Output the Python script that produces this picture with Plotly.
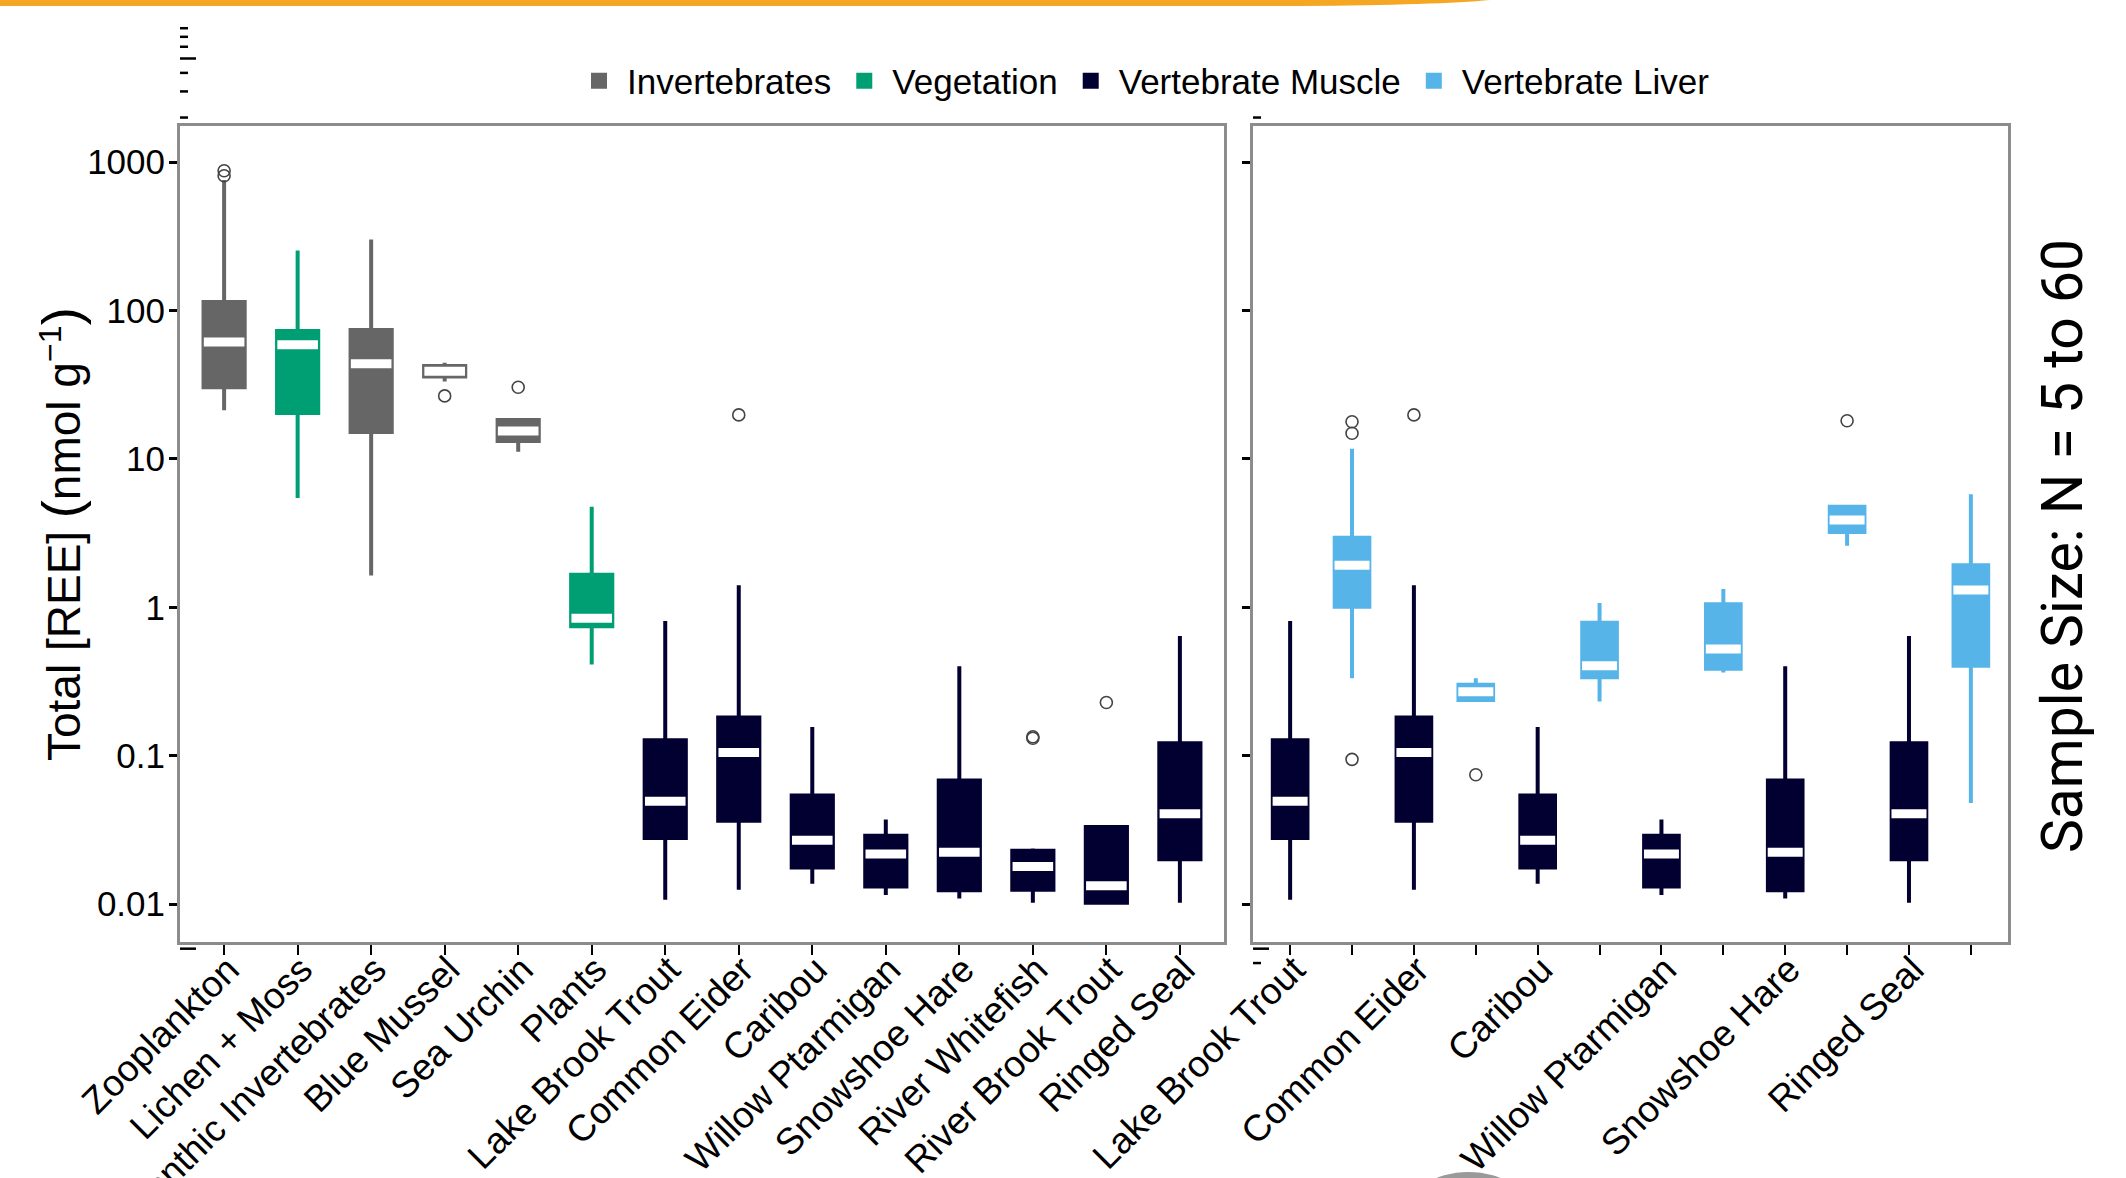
import math
import plotly.graph_objects as go

W, H = 2126, 1178

# ---- data: total REE concentrations (nmol g^-1), box statistics per category ----
left_categories = ["Zooplankton", "Lichen + Moss", "Benthic Invertebrates", "Blue Mussel",
                   "Sea Urchin", "Plants", "Lake Brook Trout", "Common Eider", "Caribou",
                   "Willow Ptarmigan", "Snowshoe Hare", "River Whitefish",
                   "River Brook Trout", "Ringed Seal"]
left_groups = ["Invertebrates", "Vegetation", "Invertebrates", "Invertebrates",
               "Invertebrates", "Vegetation", "Vertebrate Muscle", "Vertebrate Muscle",
               "Vertebrate Muscle", "Vertebrate Muscle", "Vertebrate Muscle",
               "Vertebrate Muscle", "Vertebrate Muscle", "Vertebrate Muscle"]
left_lower = [21.3, 5.45, 1.64, 33.3, 11.2, 0.411, 0.0107, 0.0125, 0.0137, 0.0115,
              0.0109, 0.0102, 0.0102, 0.0102]
left_q1 = [30.4, 20.4, 15.2, 36.0, 13.2, 0.746, 0.0279, 0.0364, 0.0176, 0.0131,
           0.0124, 0.0125, 0.0102, 0.0200]
left_median = [61.5, 58.8, 43.8, 39.0, 15.4, 0.845, 0.0493, 0.105, 0.0269, 0.0217,
               0.0223, 0.0179, 0.0133, 0.0406]
left_q3 = [114, 72.8, 74.1, 42.3, 18.3, 1.66, 0.127, 0.181, 0.0538, 0.0289,
           0.0679, 0.0229, 0.0330, 0.121]
left_upper = [760, 254, 301, 44.5, 18.5, 4.76, 0.809, 1.41, 0.156, 0.0371,
              0.400, 0.0237, 0.0330, 0.641]
left_outlier_cat = ["Zooplankton", "Zooplankton", "Blue Mussel", "Sea Urchin",
                    "Common Eider", "River Whitefish", "River Whitefish", "River Brook Trout"]
left_outlier_val = [875, 810, 26.6, 30.4, 19.8, 0.134, 0.131, 0.228]

# species compared muscle vs liver
right_species = ["Lake Brook Trout", "Common Eider", "Caribou", "Willow Ptarmigan",
                 "Snowshoe Hare", "Ringed Seal"]
liver_lower = [0.332, 0.237, 0.232, 0.363, 2.60, 0.048]
liver_q1 = [1.01, 0.237, 0.338, 0.386, 3.22, 0.404]
liver_median = [1.92, 0.270, 0.404, 0.523, 3.88, 1.31]
liver_q3 = [2.94, 0.301, 0.787, 1.05, 4.76, 1.92]
liver_upper = [11.7, 0.332, 1.07, 1.33, 4.76, 5.79]
liver_outlier_sp = ["Lake Brook Trout", "Lake Brook Trout", "Lake Brook Trout",
                    "Common Eider", "Snowshoe Hare"]
liver_outlier_val = [17.8, 14.9, 0.0944, 0.0743, 18.1]

group_order = ["Invertebrates", "Vegetation", "Vertebrate Muscle", "Vertebrate Liver"]
group_colors = {"Invertebrates": "#666666", "Vegetation": "#009E73",
                "Vertebrate Muscle": "#020030", "Vertebrate Liver": "#56B4E9"}

FONT = "Liberation Sans, Arial, Helvetica, sans-serif"
FRAME = "#8c8c8c"
OUTLIER = "#444444"
BOX_W = 0.56
XL_RANGE = [-0.6, 13.6]
XR_RANGE = [-0.6, 11.6]
Y_RANGE = [-2.256, 3.244]

fig = go.Figure()


def add_box(pos, low, q1, med, q3, up, group, xa, ya, legend):
    c = group_colors[group]
    fig.add_trace(go.Box(
        x=pos, lowerfence=low, q1=q1, median=med, q3=q3, upperfence=up,
        name=group, legendgroup=group, showlegend=legend,
        legendrank=group_order.index(group) + 1,
        width=BOX_W, fillcolor=c, line=dict(color=c, width=4),
        whiskerwidth=0, boxpoints=False, xaxis=xa, yaxis=ya,
    ))


# ---- left panel: all sample types ----
for g in group_order[:3]:
    idx = [i for i, gg in enumerate(left_groups) if gg == g]
    add_box(idx, [left_lower[i] for i in idx], [left_q1[i] for i in idx],
            [left_median[i] for i in idx], [left_q3[i] for i in idx],
            [left_upper[i] for i in idx], g, "x", "y", True)

fig.add_trace(go.Scatter(
    x=list(range(len(left_categories))), y=left_median, mode="markers",
    marker=dict(symbol="line-ew", size=29, color="white",
                line=dict(color="white", width=9)),
    showlegend=False, hoverinfo="skip", xaxis="x", yaxis="y"))
fig.add_trace(go.Scatter(
    x=[left_categories.index(c) for c in left_outlier_cat], y=left_outlier_val,
    mode="markers",
    marker=dict(symbol="circle-open", size=12, color=OUTLIER,
                line=dict(color=OUTLIER, width=1.6)),
    showlegend=False, xaxis="x", yaxis="y"))

# ---- right panel: muscle vs liver for the same species ----
mus_idx = [left_categories.index(s) for s in right_species]
mus_pos = [2 * k for k in range(len(right_species))]
liv_pos = [2 * k + 1 for k in range(len(right_species))]

add_box(mus_pos, [left_lower[i] for i in mus_idx], [left_q1[i] for i in mus_idx],
        [left_median[i] for i in mus_idx], [left_q3[i] for i in mus_idx],
        [left_upper[i] for i in mus_idx], "Vertebrate Muscle", "x2", "y2", False)
add_box(liv_pos, liver_lower, liver_q1, liver_median, liver_q3, liver_upper,
        "Vertebrate Liver", "x2", "y2", True)

fig.add_trace(go.Scatter(
    x=mus_pos + liv_pos, y=[left_median[i] for i in mus_idx] + liver_median,
    mode="markers",
    marker=dict(symbol="line-ew", size=25, color="white",
                line=dict(color="white", width=9)),
    showlegend=False, hoverinfo="skip", xaxis="x2", yaxis="y2"))

mus_out_x = [mus_pos[right_species.index(c)] for c in left_outlier_cat if c in right_species]
mus_out_y = [v for c, v in zip(left_outlier_cat, left_outlier_val) if c in right_species]
fig.add_trace(go.Scatter(
    x=mus_out_x + [liv_pos[right_species.index(s)] for s in liver_outlier_sp],
    y=mus_out_y + liver_outlier_val, mode="markers",
    marker=dict(symbol="circle-open", size=12, color=OUTLIER,
                line=dict(color=OUTLIER, width=1.6)),
    showlegend=False, xaxis="x2", yaxis="y2"))

# ---- axes ----
decades = [0.01, 0.1, 1, 10, 100, 1000]
decade_text = ["0.01", "0.1", "1", "10", "100", "1000"]
fives = [5 * d for d in [0.001, 0.01, 0.1, 1, 10, 100]]
minors = [m * d for d in [0.001, 0.01, 0.1, 1, 10, 100, 1000] for m in (2, 3, 4, 6, 7, 8, 9)]

y_dom = [1 - 942 / H, 1 - 126 / H]
xl_dom = [180 / W, 1224 / W]
xr_dom = [1253 / W, 2008 / W]

xbase = dict(showgrid=False, zeroline=False, showline=True, mirror=True,
             automargin=False, linecolor=FRAME, linewidth=3, ticks="outside",
             ticklen=10, tickwidth=2, tickcolor="black", tickangle=-45,
             ticklabelstandoff=-22, ticklabelshift=4,
             tickfont=dict(family=FONT, size=37, color="black"))
ybase = dict(type="log", range=Y_RANGE, showgrid=False, zeroline=False,
             automargin=False, domain=y_dom, tickcolor="black")

layout_axes = dict(
    xaxis=dict(xbase, domain=xl_dom, range=XL_RANGE, anchor="y",
               tickvals=list(range(len(left_categories))), ticktext=left_categories),
    # labelled ticks under the muscle boxes, unlabelled minor ticks under the liver boxes
    xaxis2=dict(xbase, domain=xr_dom, range=XR_RANGE, anchor="y2",
                tickvals=mus_pos, ticktext=right_species,
                minor=dict(ticks="outside", ticklen=10, tickwidth=2,
                           tickcolor="black", tick0=0, dtick=1, showgrid=False)),
    yaxis=dict(ybase, anchor="x", showline=True, mirror=True, linecolor=FRAME,
               linewidth=3, ticks="outside", ticklen=8, tickwidth=2.5,
               tickvals=decades, ticktext=decade_text, ticklabelstandoff=-3,
               tickfont=dict(family=FONT, size=35, color="black")),
    yaxis2=dict(ybase, anchor="x2", showline=True, mirror=True, linecolor=FRAME,
                linewidth=3, ticks="outside", ticklen=8, tickwidth=2.5,
                tickvals=decades, showticklabels=False),
)
# inner tick marks: decades (long), fives (medium), others (short)
n = 3
for base_y, base_x in (("y", "x"), ("y2", "x2")):
    for vals, ln, wd in ((decades, 25, 2.5), (fives, 16, 2), (minors, 8, 2)):
        layout_axes["yaxis%d" % n] = dict(
            ybase, overlaying=base_y, anchor=base_x, side="left", showline=False,
            ticks="inside", ticklen=ln, tickwidth=wd, tickvals=vals,
            showticklabels=False)
        n += 1

fig.update_layout(
    width=W, height=H, autosize=False,
    margin=dict(l=0, r=0, t=0, b=0, pad=0, autoexpand=False),
    paper_bgcolor="white", plot_bgcolor="white",
    font=dict(family=FONT, color="black"),
    legend=dict(orientation="h", x=1143 / W, xanchor="center", y=1 - 81 / H,
                yanchor="middle", font=dict(family=FONT, size=35, color="black"),
                bgcolor="rgba(0,0,0,0)", itemwidth=46),
    **layout_axes,
)

# log-axis minor ticks that run on past the frame (above and below the panels)
stray_left = [2000, 3000, 4000, 5000, 6000, 7000, 8000, 0.005]
stray_right = [2000, 0.005, 0.004]
for vals, xa, ya, dom in ((stray_left, "x", "y", xl_dom), (stray_right, "x2", "y2", xr_dom)):
    panel_px = (dom[1] - dom[0]) * W
    for v in vals:
        frac = (math.log10(v) - Y_RANGE[0]) / (Y_RANGE[1] - Y_RANGE[0])
        ln = 16 if str(v).lstrip("0.").startswith("5") else 8
        fig.add_shape(type="line", xref=xa + " domain", yref=ya + " domain",
                      x0=0, x1=ln / panel_px, y0=frac, y1=frac,
                      line=dict(color="black", width=2.5))

# axis title and sample-size note
fig.add_annotation(x=61 / W, y=1 - 534 / H, xref="paper", yref="paper",
                   text=("Total [REE] <span style='font-size:54px'>(</span>nmol g"
                         "<sup>−1</sup><span style='font-size:54px'>)</span>"),
                   textangle=-90,
                   showarrow=False, xanchor="center", yanchor="middle",
                   font=dict(family=FONT, size=46, color="black"))
fig.add_annotation(x=2062 / W, y=1 - 546 / H, xref="paper", yref="paper",
                   text="Sample Size: N = 5 to 60", textangle=-90,
                   showarrow=False, xanchor="center", yanchor="middle",
                   font=dict(family="Roboto, sans-serif", size=57, color="black"))

# slide decorations: orange band at top, grey disc peeking at the bottom
fig.add_shape(type="path", xref="paper", yref="paper",
              path="M 0 1 L %f 1 Q %f %f %f %f L 0 %f Z" % (
                  1490 / W, 1440 / W, 1 - 5 / H, 1300 / W, 1 - 6 / H, 1 - 6 / H),
              fillcolor="#F5A623", line=dict(width=0), layer="above")
fig.add_shape(type="circle", xref="paper", yref="paper",
              x0=1405 / W, x1=1532 / W, y0=1 - 1172 / H, y1=1 - 1260 / H,
              fillcolor="#9a9a9a", line=dict(width=0), layer="above")

fig.write_html("out.html")
